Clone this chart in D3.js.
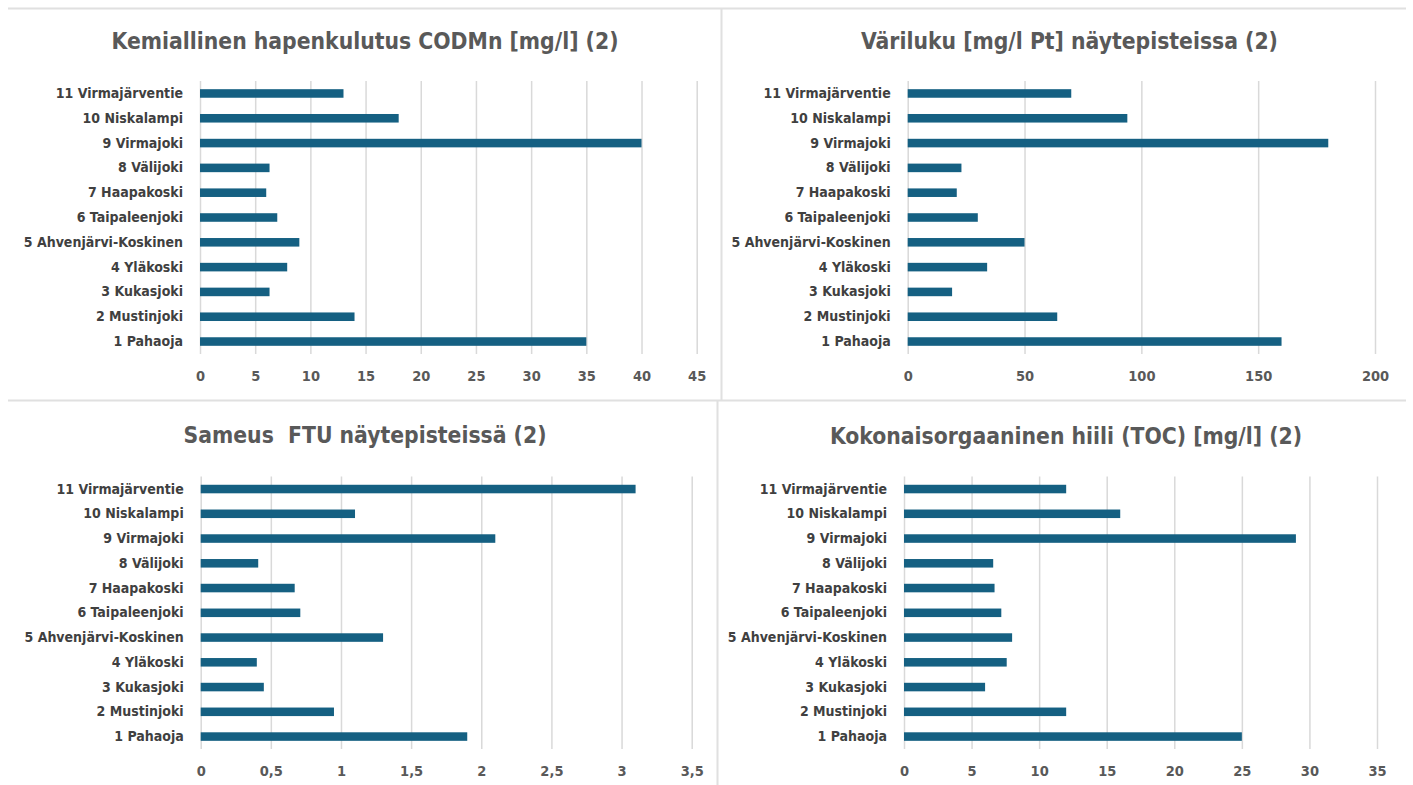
<!DOCTYPE html>
<html>
<head>
<meta charset="utf-8">
<script src="https://cdn.jsdelivr.net/npm/d3@7"></script>
<style>
  html, body { margin: 0; padding: 0; background: #ffffff; }
  svg { display: block; }
  .title { font-family: "Liberation Sans Narrow", "DejaVu Sans Condensed", "Roboto", sans-serif; font-stretch: condensed; fill: #595959; white-space: pre; }
  .cat text { font-family: "Liberation Sans Narrow", "DejaVu Sans Condensed", "Roboto", sans-serif; font-stretch: condensed; font-weight: bold; fill: #404040; }
  .val text { font-family: "Liberation Sans Narrow", "DejaVu Sans Condensed", "Roboto", sans-serif; font-stretch: condensed; font-weight: bold; fill: #595959; }
</style>
</head>
<body>
<svg id="chart" width="1413" height="785"></svg>
<script>
// ---- data ----
const categories = ["1 Pahaoja", "2 Mustinjoki", "3 Kukasjoki", "4 Yläkoski", "5 Ahvenjärvi-Koskinen",
  "6 Taipaleenjoki", "7 Haapakoski", "8 Välijoki", "9 Virmajoki", "10 Niskalampi", "11 Virmajärventie"];

const codValues    = [35, 14, 6.3, 7.9, 9, 7, 6, 6.3, 40, 18, 13];
const varilukuValues = [160, 64, 19, 34, 50, 30, 21, 23, 180, 94, 70];
const sameusValues = [1.9, 0.95, 0.45, 0.4, 1.3, 0.71, 0.67, 0.41, 2.1, 1.1, 3.1];
const tocValues    = [25, 12, 6, 7.6, 8, 7.2, 6.7, 6.6, 29, 16, 12];

const codTicks      = [0, 5, 10, 15, 20, 25, 30, 35, 40, 45];
const varilukuTicks = [0, 50, 100, 150, 200];
const sameusTicks   = [0, 0.5, 1, 1.5, 2, 2.5, 3, 3.5];
const tocTicks      = [0, 5, 10, 15, 20, 25, 30, 35];

const titles = [
  "Kemiallinen hapenkulutus CODMn [mg/l] (2)",
  "Väriluku [mg/l Pt] näytepisteissa (2)",
  "Sameus  FTU näytepisteissä (2)",
  "Kokonaisorgaaninen hiili (TOC) [mg/l] (2)"
];

// ---- layout ----
const panels = [
  { values: codValues,      ticks: codTicks,      title: titles[0], x0: 200,   x1: 696.7, y0: 81,    y1: 354, tx: 365,    ty: 42 },
  { values: varilukuValues, ticks: varilukuTicks, title: titles[1], x0: 907.7, x1: 1375,  y0: 81,    y1: 354, tx: 1069.5, ty: 42 },
  { values: sameusValues,   ticks: sameusTicks,   title: titles[2], x0: 200.7, x1: 691.7, y0: 476.6, y1: 749, tx: 365,    ty: 436 },
  { values: tocValues,      ticks: tocTicks,      title: titles[3], x0: 904,   x1: 1377,  y0: 476.6, y1: 749, tx: 1066,   ty: 437 }
];

const svg = d3.select("#chart");
const fmt = d => String(d).replace(".", ",");

// frame lines
const frame = svg.append("g").attr("stroke", "#e0e0e0").attr("stroke-width", 2);
frame.append("line").attr("x1", 8).attr("x2", 1406).attr("y1", 8.5).attr("y2", 8.5);
frame.append("line").attr("x1", 8).attr("x2", 1406).attr("y1", 400.5).attr("y2", 400.5);
frame.append("line").attr("x1", 721.5).attr("x2", 721.5).attr("y1", 8).attr("y2", 400);
frame.append("line").attr("x1", 717.5).attr("x2", 717.5).attr("y1", 400).attr("y2", 785);

panels.forEach(p => {
  const g = svg.append("g");
  const x = d3.scaleLinear()
    .domain([0, p.ticks[p.ticks.length - 1]])
    .range([p.x0, p.x1]);
  const y = d3.scaleBand()
    .domain(categories.slice().reverse())
    .range([p.y0, p.y1])
    .paddingInner(0.655)
    .paddingOuter(0.33);

  // gridlines + tick labels
  const xa = g.append("g").attr("class", "val")
    .attr("transform", `translate(0,${p.y1})`)
    .call(d3.axisBottom(x).tickValues(p.ticks).tickFormat(fmt)
      .tickSize(-(p.y1 - p.y0)).tickPadding(17));
  xa.select(".domain").remove();
  xa.selectAll(".tick line").attr("stroke", "#d9d9d9").attr("stroke-width", 1.5);
  xa.selectAll(".tick text").attr("font-size", 14.5);

  // bars
  g.append("g").selectAll("rect")
    .data(p.values)
    .join("rect")
    .attr("x", x(0))
    .attr("y", (d, i) => y(categories[i]))
    .attr("width", d => x(d) - x(0))
    .attr("height", y.bandwidth())
    .attr("fill", "#156082");

  // category axis
  const ya = g.append("g").attr("class", "cat")
    .attr("transform", `translate(${p.x0},0)`)
    .call(d3.axisLeft(y).tickSize(0).tickPadding(17));
  ya.select(".domain").remove();
  ya.selectAll(".tick text").attr("font-size", 14);

  // title
  g.append("text").attr("class", "title")
    .attr("x", p.tx).attr("y", p.ty)
    .attr("text-anchor", "middle")
    .attr("dominant-baseline", "middle")
    .attr("font-size", 22.7)
    .attr("font-weight", "bold")
    .attr("xml:space", "preserve")
    .text(p.title);
});
</script>
</body>
</html>
